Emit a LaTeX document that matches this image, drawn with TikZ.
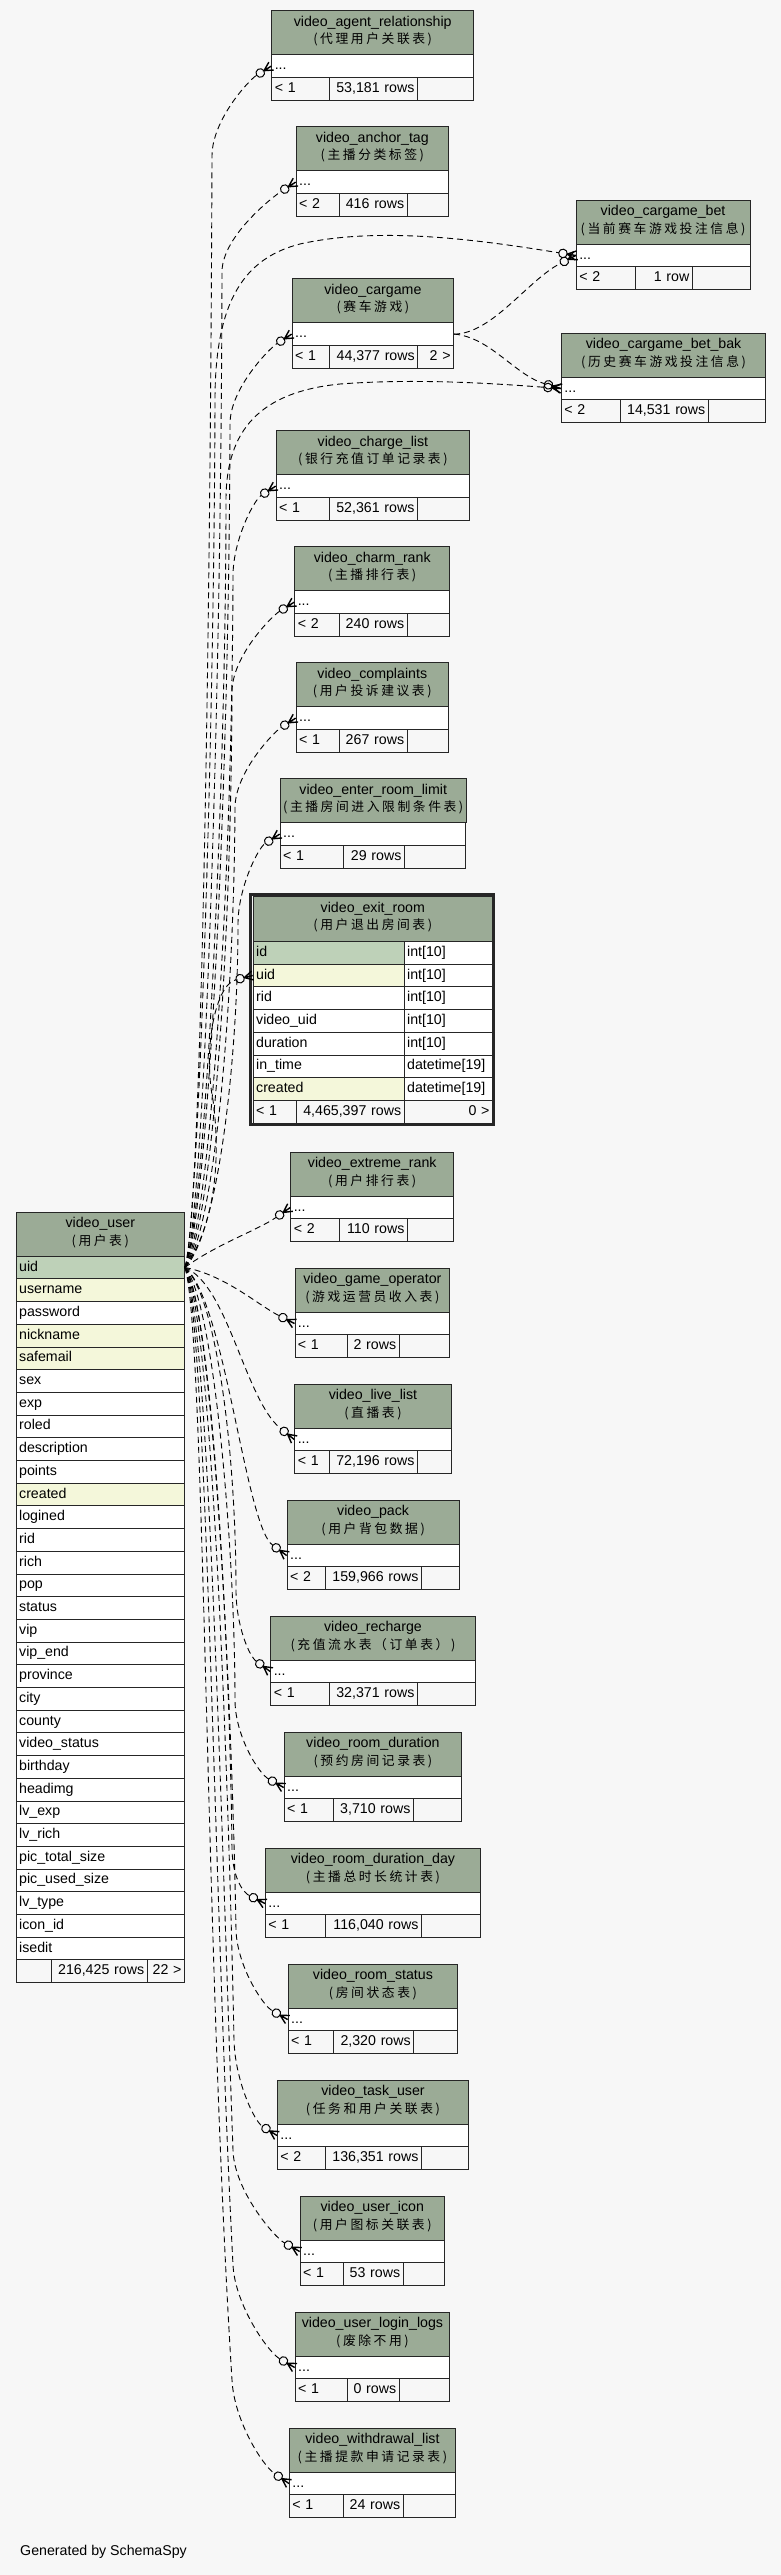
\documentclass[tikz,border=0pt]{standalone}
\usepackage{fontspec}
\setmainfont{Liberation Sans}
\newfontfamily\cjkfont[LetterSpace=20]{Noto Sans CJK SC}
\usepackage{tikz}

\definecolor{hdrgreen}{HTML}{9BAB96}
\definecolor{pkgreen}{HTML}{BED1B8}
\definecolor{idxyellow}{HTML}{F4F7DA}
\definecolor{pagebg}{HTML}{F7F7F7}

\newcommand{\cnt}[1]{{\cjkfont\fontsize{12.8}{17.4}\selectfont #1}}

\pgfdeclarearrow{
  name = crowodot,
  parameters = {\the\pgflinewidth},
  setup code = {
    \pgfarrowssettipend{0pt}
    \pgfarrowssetlineend{-17.3pt}
    \pgfarrowssetbackend{-17.3pt}
  },
  drawing code = {
    \pgfsetdash{}{0pt}
    \pgfsetlinewidth{1.4pt}
    \pgfpathmoveto{\pgfpoint{0pt}{4.6pt}}
    \pgfpathlineto{\pgfpoint{-8.6pt}{0pt}}
    \pgfpathlineto{\pgfpoint{0pt}{-4.6pt}}
    \pgfpathmoveto{\pgfpoint{0pt}{0pt}}
    \pgfpathlineto{\pgfpoint{-8.7pt}{0pt}}
    \pgfusepathqstroke
    \pgfsetlinewidth{1pt}
    \pgfpathcircle{\pgfpoint{-13pt}{0pt}}{4.3pt}
    \pgfusepathqstroke
  }
}

% id, left, top, right, sep1, sep2, header, parents, rows, then {children}
\newcommand{\smalltable}[9]{%
  \def\Tid{#1}\def\Tx{#2}\def\Ty{#3}\def\Txr{#4}\def\Tsa{#5}\def\Tsb{#6}%
  \def\Thead{#7}\def\Tpar{#8}\def\Trows{#9}\smalltablerest}
\newcommand{\smalltablerest}[1]{%
  \pgfmathsetmacro\Tw{\Txr-\Tx}%
  \pgfmathsetmacro\Twt{\Txr-\Tx-6}%
  \pgfmathsetmacro\Twa{\Tsa-\Tx-6}%
  \pgfmathsetmacro\Twb{\Tsb-\Tsa-6}%
  \pgfmathsetmacro\Twc{\Txr-\Tsb-6}%
  \node[hdr, minimum width=\Tw pt] (\Tid) at (\Tx,\Ty) {\Thead};
  \node[cell, fill=white, text width=\Twt pt, align=left] (\Tid-dots) at (\Tx,\Ty+44) {...};
  \node[cell, text width=\Twa pt, align=left] (\Tid-par) at (\Tx,\Ty+66.7) {\Tpar};
  \node[cell, text width=\Twb pt, align=right] (\Tid-rows) at (\Tsa,\Ty+66.7) {\Trows};
  \node[cell, text width=\Twc pt, align=right] (\Tid-chl) at (\Tsb,\Ty+66.7) {#1};
}

\begin{document}
\begin{tikzpicture}[x=1pt, y=-1pt, font=\fontsize{14.2}{17.4}\selectfont,
  tbox/.style={draw=black!85, line width=0.9pt, inner xsep=3pt, inner ysep=0pt, anchor=north west},
  hdr/.style={tbox, fill=hdrgreen, minimum height=44pt, align=center, text height=27.9pt, text depth=6.1pt},
  cell/.style={tbox, minimum height=22.7pt, text height=10pt, text depth=3pt},
  fk/.style={line width=0.9pt, dash pattern=on 6pt off 4pt, -crowodot}]

  \fill[pagebg] (0,0) rectangle (781,2575);
  \useasboundingbox (0,0) rectangle (781,2575);

  \smalltable{agent}{271.3}{10.3}{473.2}{328.9}{417}{video\_agent\_relationship\\\cnt{(代理用户关联表)}}{< 1}{53,181 rows}{}
  \smalltable{anchor}{295.7}{126.3}{448.1}{338.7}{406.8}{video\_anchor\_tag\\\cnt{(主播分类标签)}}{< 2}{416 rows}{}
  \smalltable{bet}{575.8}{199.7}{749.5}{634.7}{691.9}{video\_cargame\_bet\\\cnt{(当前赛车游戏投注信息)}}{< 2}{1 row}{}
  \smalltable{cargame}{291.7}{278.3}{453.2}{328.9}{417.3}{video\_cargame\\\cnt{(赛车游戏)}}{< 1}{44,377 rows}{2 >}
  \smalltable{betbak}{560.9}{332.7}{765.4}{619.8}{707.8}{video\_cargame\_bet\_bak\\\cnt{(历史赛车游戏投注信息)}}{< 2}{14,531 rows}{}
  \smalltable{charge}{275.7}{430.3}{469.3}{329}{417}{video\_charge\_list\\\cnt{(银行充值订单记录表)}}{< 1}{52,361 rows}{}
  \smalltable{charm}{294.3}{546.3}{449.3}{338.7}{406.7}{video\_charm\_rank\\\cnt{(主播排行表)}}{< 2}{240 rows}{}
  \smalltable{complaints}{295.7}{662.3}{448}{338.7}{406.7}{video\_complaints\\\cnt{(用户投诉建议表)}}{< 1}{267 rows}{}
  \smalltable{enter}{279.7}{778.3}{465.3}{342.7}{404}{video\_enter\_room\_limit\\\cnt{(主播房间进入限制条件表)}}{< 1}{29 rows}{}
  \smalltable{extreme}{290.3}{1151.7}{453.3}{338.7}{407}{video\_extreme\_rank\\\cnt{(用户排行表)}}{< 2}{110 rows}{}
  \smalltable{gameop}{294.5}{1267.7}{449.3}{346.7}{398.7}{video\_game\_operator\\\cnt{(游戏运营员收入表)}}{< 1}{2 rows}{}
  \smalltable{live}{294.3}{1383.7}{450.7}{329.3}{417}{video\_live\_list\\\cnt{(直播表)}}{< 1}{72,196 rows}{}
  \smalltable{pack}{286.7}{1499.7}{458.7}{325}{421}{video\_pack\\\cnt{(用户背包数据)}}{< 2}{159,966 rows}{}
  \smalltable{recharge}{270.3}{1615.7}{474.7}{329}{417}{video\_recharge\\\cnt{(充值流水表（订单表）)}}{< 1}{32,371 rows}{}
  \smalltable{duration}{283.7}{1731.7}{461.3}{333}{413}{video\_room\_duration\\\cnt{(预约房间记录表)}}{< 1}{3,710 rows}{}
  \smalltable{durday}{265}{1847.7}{480}{325}{421}{video\_room\_duration\_day\\\cnt{(主播总时长统计表)}}{< 1}{116,040 rows}{}
  \smalltable{status}{287.7}{1963.7}{457.3}{333}{413.3}{video\_room\_status\\\cnt{(房间状态表)}}{< 1}{2,320 rows}{}
  \smalltable{task}{277}{2079.7}{468}{325.3}{421}{video\_task\_user\\\cnt{(任务和用户关联表)}}{< 2}{136,351 rows}{}
  \smalltable{icon}{299.7}{2195.7}{444}{342.7}{402.7}{video\_user\_icon\\\cnt{(用户图标关联表)}}{< 1}{53 rows}{}
  \smalltable{logs}{294.7}{2311.7}{449.3}{347}{398.7}{video\_user\_login\_logs\\\cnt{(废除不用)}}{< 1}{0 rows}{}
  \smalltable{withdraw}{289}{2427.7}{455}{342.7}{402.7}{video\_withdrawal\_list\\\cnt{(主播提款申请记录表)}}{< 1}{24 rows}{}

  % video_exit_room
  \node[hdr, minimum width=239.3pt, minimum height=45pt] (exit) at (252.7,896) {video\_exit\_room\\\cnt{(用户退出房间表)}};
  \foreach \nm/\txt/\type/\bg [count=\i] in {id/id/{int[10]}/pkgreen, uid/uid/{int[10]}/idxyellow,
      rid/rid/{int[10]}/white, vuid/video\_uid/{int[10]}/white, duration/duration/{int[10]}/white,
      intime/in\_time/{datetime[19]}/white, created/created/{datetime[19]}/idxyellow}
  {
    \node[cell, fill=\bg, text width=145pt, align=left] (exit-\nm) at (252.7,{941+22.7*(\i-1)}) {\txt};
    \node[cell, fill=white, text width=82.3pt, align=left] (exit-\nm-type) at (403.7,{941+22.7*(\i-1)}) {\type};
  }
  \node[cell, text width=37pt, align=left] (exit-par) at (252.7,1099.9) {< 1};
  \node[cell, text width=102pt, align=right] (exit-rows) at (295.7,1099.9) {4,465,397 rows};
  \node[cell, text width=82.3pt, align=right] (exit-chl) at (403.7,1099.9) {0 >};
  \draw[line width=2.6pt, black!85] (250.6,894.4) rectangle (493.6,1124.2);

  % video_user
  \node[hdr, minimum width=168.3pt] (user) at (15.7,1211.7) {video\_user\\\cnt{(用户表)}};
  \foreach \nm/\txt/\bg [count=\i] in {uid/uid/pkgreen, username/username/idxyellow, password/password/white,
      nickname/nickname/idxyellow, safemail/safemail/idxyellow, sex/sex/white, exp/exp/white,
      roled/roled/white, description/description/white, points/points/white, created/created/idxyellow,
      logined/logined/white, rid/rid/white, rich/rich/white, pop/pop/white, status/status/white,
      vip/vip/white, vipend/vip\_end/white, province/province/white, city/city/white, county/county/white,
      vstatus/video\_status/white, birthday/birthday/white, headimg/headimg/white, lvexp/lv\_exp/white,
      lvrich/lv\_rich/white, pictotal/pic\_total\_size/white, picused/pic\_used\_size/white,
      lvtype/lv\_type/white, iconid/icon\_id/white, isedit/isedit/white}
  {
    \node[cell, fill=\bg, text width=162.3pt, align=left] (user-\nm) at (15.7,{1255.7+22.7*(\i-1)}) {\txt};
  }
  \node[cell, text width=29pt, align=left] (user-par) at (15.7,1959.4) {};
  \node[cell, text width=90pt, align=right] (user-rows) at (50.7,1959.4) {216,425 rows};
  \node[cell, text width=31.3pt, align=right] (user-chl) at (146.7,1959.4) {22 >};

  \node[anchor=west] (credit) at (16.7,2551.7) {Generated by SchemaSpy};

  % relationships
  \draw[fk] (user-uid.east) .. controls (200,1225) and (210,700) .. (212,156) .. controls (212,120) and (249,80) .. (agent-dots.west);
  \draw[fk] (user-uid.east) .. controls (203,1225) and (221,740) .. (222,272) .. controls (222,236) and (274,196) .. (anchor-dots.west);
  \draw[fk] (user-uid.east) .. controls (198,1225) and (214,750) .. (215,400) .. controls (215,300) and (245,258) .. (300,244) .. controls (380,226) and (480,240) .. (bet-dots.west);
  \draw[fk] (user-uid.east) .. controls (206,1228) and (229,820) .. (230,424) .. controls (230,388) and (270,348) .. (cargame-dots.west);
  \draw[fk] (user-uid.east) .. controls (204,1226) and (226,800) .. (226,500) .. controls (226,430) and (260,392) .. (340,384) .. controls (420,378) and (500,384) .. (betbak-dots.west);
  \draw[fk] (user-uid.east) .. controls (209,1228) and (232,900) .. (233,576) .. controls (233,540) and (254,500) .. (charge-dots.west);
  \draw[fk] (user-uid.east) .. controls (212,1230) and (231,950) .. (232,692) .. controls (232,656) and (272,616) .. (charm-dots.west);
  \draw[fk] (user-uid.east) .. controls (215,1232) and (234,1000) .. (235,808) .. controls (235,772) and (274,732) .. (complaints-dots.west);
  \draw[fk] (user-uid.east) .. controls (218,1235) and (238,1060) .. (238,924) .. controls (238,888) and (258,848) .. (enter-dots.west);
  \draw[fk] (user-uid.east) .. controls (215,1225) and (221,1160) .. (213,1100) .. controls (203,1050) and (215,985) .. (exit-uid.west);
  \draw[fk] (user-uid.east) .. controls (215,1245) and (258,1230) .. (extreme-dots.west);
  \draw[fk] (user-uid.east) .. controls (225,1275) and (258,1305) .. (gameop-dots.west);
  \draw[fk] (user-uid.east) .. controls (228,1285) and (245,1400) .. (live-dots.west);
  \draw[fk] (user-uid.east) .. controls (225,1300) and (245,1525) .. (pack-dots.west);
  \draw[fk] (user-uid.east) .. controls (216,1295) and (236,1450) .. (236,1590) .. controls (236,1625) and (249,1656) .. (recharge-dots.west);
  \draw[fk] (user-uid.east) .. controls (214,1300) and (235,1550) .. (235,1700) .. controls (235,1735) and (258,1773) .. (duration-dots.west);
  \draw[fk] (user-uid.east) .. controls (212,1305) and (230,1650) .. (232,1850) .. controls (233,1880) and (244,1893) .. (durday-dots.west);
  \draw[fk] (user-uid.east) .. controls (213,1305) and (232,1700) .. (236,1930) .. controls (237,1965) and (262,2005) .. (status-dots.west);
  \draw[fk] (user-uid.east) .. controls (211,1310) and (228,1750) .. (234,2040) .. controls (235,2080) and (254,2121) .. (task-dots.west);
  \draw[fk] (user-uid.east) .. controls (209,1315) and (222,1850) .. (233,2150) .. controls (234,2190) and (274,2237) .. (icon-dots.west);
  \draw[fk] (user-uid.east) .. controls (207,1320) and (214,1900) .. (233,2265) .. controls (235,2305) and (268,2352) .. (logs-dots.west);
  \draw[fk] (user-uid.east) .. controls (205,1330) and (205,1950) .. (232,2380) .. controls (234,2420) and (262,2465) .. (withdraw-dots.west);
  \draw[fk] (cargame-dots.east) .. controls (492,334) and (528,280) .. (bet-dots.west);
  \draw[fk] (cargame-dots.east) .. controls (490,337) and (515,375) .. (betbak-dots.west);

\end{tikzpicture}
\end{document}
